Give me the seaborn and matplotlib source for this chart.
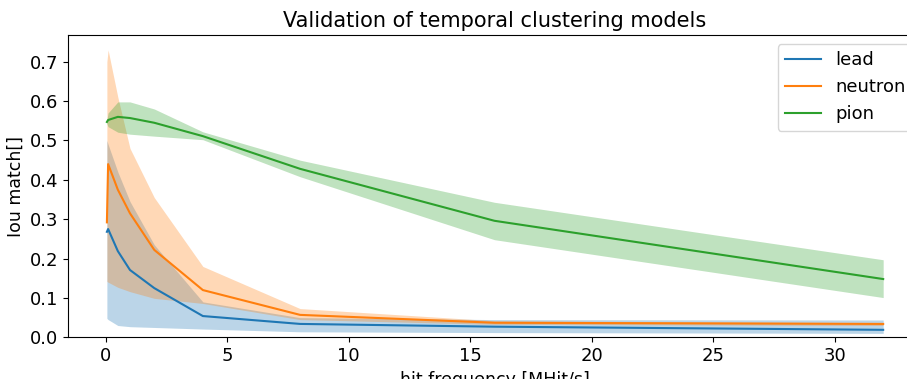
import matplotlib
matplotlib.use("Agg")
import matplotlib.pyplot as plt
import seaborn as sns
import numpy as np
import pandas as pd

# hit frequency [MHit/s]
freq = [0.05, 0.1, 0.5, 1, 2, 4, 8, 16, 32]
particles = ["lead", "neutron", "pion"]

# mean IoU match and band limits
lead_mean = [0.268, 0.275, 0.219, 0.171, 0.125, 0.054, 0.034, 0.027, 0.019]
lead_low = [0.048, 0.045, 0.030, 0.027, 0.025, 0.021, 0.014, 0.012, 0.010]
lead_high = [0.500, 0.490, 0.420, 0.345, 0.235, 0.090, 0.050, 0.045, 0.044]

neutron_mean = [0.292, 0.440, 0.375, 0.315, 0.222, 0.120, 0.057, 0.037, 0.034]
neutron_low = [0.142, 0.140, 0.127, 0.116, 0.099, 0.086, 0.045, 0.033, 0.030]
neutron_high = [0.700, 0.730, 0.610, 0.480, 0.355, 0.180, 0.073, 0.042, 0.037]

pion_mean = [0.547, 0.552, 0.560, 0.557, 0.545, 0.511, 0.428, 0.296, 0.148]
pion_low = [0.542, 0.535, 0.521, 0.516, 0.511, 0.502, 0.408, 0.248, 0.101]
pion_high = [0.553, 0.570, 0.598, 0.598, 0.580, 0.522, 0.450, 0.343, 0.197]

means = [lead_mean, neutron_mean, pion_mean]
lows = [lead_low, neutron_low, pion_low]
highs = [lead_high, neutron_high, pion_high]

df = pd.DataFrame({
    "freq": freq * 3,
    "iou": lead_mean + neutron_mean + pion_mean,
    "particle": np.repeat(particles, len(freq)),
})

plt.rcParams['font.size'] = 13
plt.rcParams['font.family'] = ['DejaVu Sans']

fig = plt.figure(figsize=(9.07, 3.79), dpi=100)
# axes run past the right edge, as in the cropped original
ax = fig.add_axes([0.075, 0.110, 0.9416, 0.7977])

colors = sns.color_palette("tab10", 3)
sns.lineplot(data=df, x="freq", y="iou", hue="particle", palette=colors,
             errorbar=None, linewidth=1.5, ax=ax)
for i in range(3):
    ax.fill_between(freq, lows[i], highs[i], color=colors[i], alpha=0.3, linewidth=0)

ax.set_xlim(-1.55, 33.6)
ax.set_ylim(0, 0.768)
ax.set_title("Validation of temporal clustering models", fontsize=15)
ax.set_xlabel("hit frequency [MHit/s]", fontsize=12.5)
ax.set_ylabel("Iou match[]", fontsize=12.5)
ax.legend(loc="upper right", fontsize=13)

fig.savefig("out.png", dpi=100)
